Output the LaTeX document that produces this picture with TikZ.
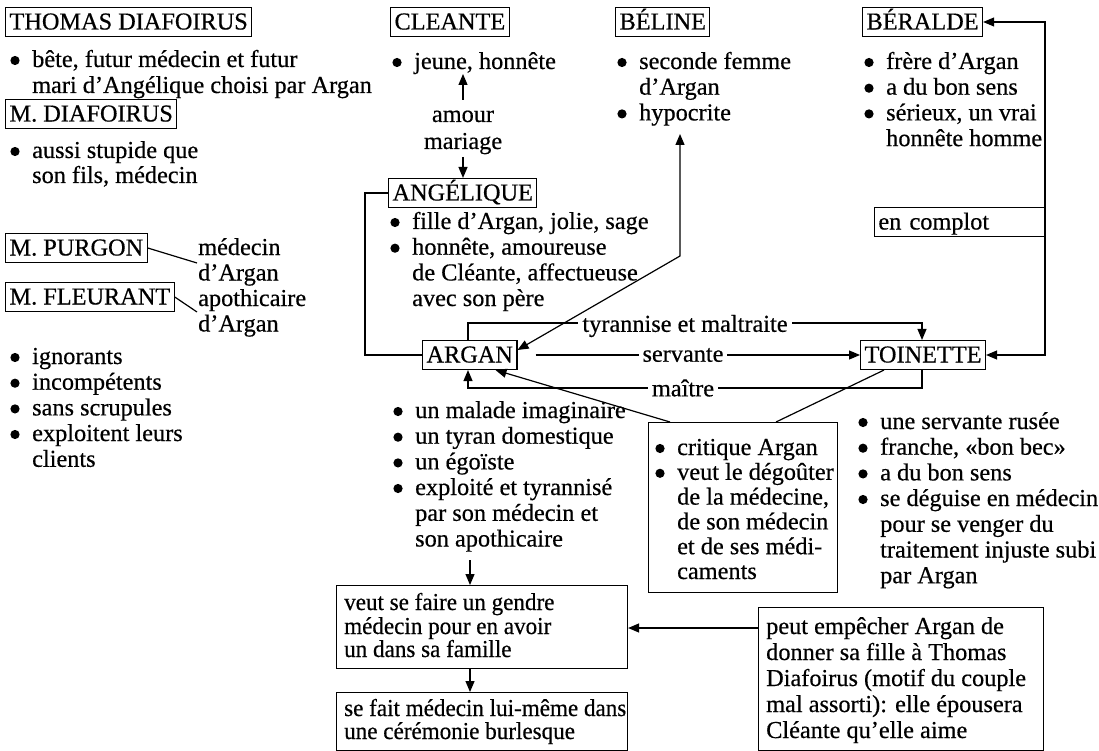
\documentclass[tikz,border=0pt]{standalone}
\usepackage{fontspec}
\setmainfont{Liberation Serif}[FakeBold=0.5]
\newfontfamily\condfont{Liberation Serif}[FakeStretch=0.95,FakeBold=0.5]
\usetikzlibrary{arrows.meta,calc}
% bullet line: name, x of bullet, baseline y, text
\newcommand\Bu[4]{\fill (#2+5,#3-6.5) circle (4.6pt); \node[txt] (#1) at (#2+22,#3) {#4};}
% plain line: name, x, baseline y, text
\newcommand\Tx[4]{\node[txt] (#1) at (#2,#3) {#4};}
\begin{document}
\begin{tikzpicture}[x=1pt,y=-1pt, font=\fontsize{24.3pt}{25.7pt}\selectfont,
 txt/.style={anchor=base west, inner sep=0pt},
 namebox/.style={draw, line width=1.1pt, inner xsep=4pt, inner ysep=0pt, text height=22pt, text depth=7pt, anchor=west},
 frame/.style={draw, line width=1.1pt, anchor=north west, inner sep=0pt},
 lab/.style={fill=white, inner xsep=4pt, inner ysep=1pt},
 ln/.style={line width=1.2pt},
 tri/.style={ln, -{Triangle[length=11pt,width=9pt]}},
 tritri/.style={ln, {Triangle[length=11pt,width=9pt]}-{Triangle[length=11pt,width=9pt]}}]
\path[use as bounding box, fill=white] (0,0) rectangle (1099,751);
% ---------------- left column
\node[namebox] (thomas) at (5,22) {THOMAS DIAFOIRUS};
\Bu{tb1}{10}{67}{bête, futur médecin et futur}
\Tx{tb2}{32}{93}{mari d’Angélique choisi par Argan}
\node[namebox] (mdia) at (5,114) {M. DIAFOIRUS};
\Bu{md1}{10}{158}{aussi stupide que}
\Tx{md2}{32}{183}{son fils, médecin}
\node[namebox] (purgon) at (5,248) {M. PURGON};
\node[namebox] (fleurant) at (5,297) {M. FLEURANT};
\Tx{pf1}{198}{255}{médecin}
\Tx{pf2}{198}{280.5}{d’Argan}
\Tx{pf3}{198}{306}{apothicaire}
\Tx{pf4}{198}{331.5}{d’Argan}
\coordinate (pgE) at (197,263);
\coordinate (flE) at (197,312);
\draw[ln] (purgon.east) -- (pgE);
\draw[ln] (fleurant.east) -- (flE);
\Bu{mm1}{10}{364}{ignorants}
\Bu{mm2}{10}{389.7}{incompétents}
\Bu{mm3}{10}{415.4}{sans scrupules}
\Bu{mm4}{10}{441}{exploitent leurs}
\Tx{mm5}{32}{466.8}{clients}
% ---------------- centre
\node[namebox] (cleante) at (390,22) {CLEANTE};
\Bu{cl1}{392}{69}{jeune, honnête}
\node[anchor=base, inner sep=0pt] (amour) at (463,122) {amour};
\node[anchor=base, inner sep=0pt] (mariage) at (463,149) {mariage};
\coordinate (cu1) at (463,100);
\coordinate (cu2) at (463,74);
\draw[tri] (cu1) -- (cu2);
\node[namebox] (ang) at (388,193) {ANGÉLIQUE};
\coordinate (cd1) at (463,157);
\draw[tri] (cd1) -- (cd1 |- ang.north);
\Bu{an1}{390}{229}{fille d’Argan, jolie, sage}
\Bu{an2}{390}{254.7}{honnête, amoureuse}
\Tx{an3}{412}{280.4}{de Cléante, affectueuse}
\Tx{an4}{412}{306}{avec son père}
\node[namebox] (argan) at (422,355) {ARGAN};
\Bu{ar1}{393}{418}{un malade imaginaire}
\Bu{ar2}{393}{443.7}{un tyran domestique}
\Bu{ar3}{393}{469.4}{un égoïste}
\Bu{ar4}{393}{495}{exploité et tyrannisé}
\Tx{ar5}{415}{520.8}{par son médecin et}
\Tx{ar6}{415}{546.5}{son apothicaire}
% ---------------- bottom left boxes
\node[frame, minimum width=291pt, minimum height=83pt] (b1) at (336,585) {};
\begin{scope}[font=\condfont\fontsize{24.3pt}{23.5pt}\selectfont]
\Tx{b1a}{344}{610}{veut se faire un gendre}
\Tx{b1b}{344}{634}{médecin pour en avoir}
\Tx{b1c}{344}{657}{un dans sa famille}
\end{scope}
\coordinate (ad1) at (470,560);
\draw[tri] (ad1) -- (ad1 |- b1.north);
\node[frame, minimum width=291pt, minimum height=58pt] (b2) at (336,692) {};
\begin{scope}[font=\condfont\fontsize{24.3pt}{23.5pt}\selectfont]
\Tx{b2a}{344}{716}{se fait médecin lui-même dans}
\Tx{b2b}{344}{739}{une cérémonie burlesque}
\end{scope}
\draw[tri] (ad1 |- b1.south) -- (ad1 |- b2.north);
% ---------------- Béline
\node[namebox] (beline) at (615,22) {BÉLINE};
\Bu{be1}{617}{69}{seconde femme}
\Tx{be2}{639}{94.7}{d’Argan}
\Bu{be3}{617}{120.4}{hypocrite}
% ---------------- Béralde
\node[namebox] (beralde) at (862,22) {BÉRALDE};
\Bu{br1}{864}{69}{frère d’Argan}
\Bu{br2}{864}{94.7}{a du bon sens}
\Bu{br3}{864}{120.4}{sérieux, un vrai}
\Tx{br4}{886}{146.1}{honnête homme}
% ---------------- Toinette
\node[namebox] (toi) at (860,355) {TOINETTE};
\Bu{to1}{858}{429}{une servante rusée}
\Bu{to2}{858}{454.7}{franche, «bon bec»}
\Bu{to3}{858}{480.4}{a du bon sens}
\Bu{to4}{858}{506}{se déguise en médecin}
\Tx{to5}{880}{531.8}{pour se venger du}
\Tx{to6}{880}{557.5}{traitement injuste subi}
\Tx{to7}{880}{583.2}{par Argan}
% ---------------- critique box
\node[frame, minimum width=189pt, minimum height=170pt] (crit) at (648,422) {};
\Bu{cr1t}{655}{455}{critique Argan}
\Bu{cr2t}{655}{479.8}{veut le dégoûter}
\Tx{cr3t}{677}{504.6}{de la médecine,}
\Tx{cr4t}{677}{529.4}{de son médecin}
\Tx{cr5t}{677}{554.2}{et de ses médi-}
\Tx{cr6t}{677}{579}{caments}
% ---------------- right bottom box
\node[frame, minimum width=285pt, minimum height=143pt] (rb) at (758,607) {};
\Tx{rb1}{766}{634}{peut empêcher Argan de}
\Tx{rb2}{766}{660}{donner sa fille à Thomas}
\Tx{rb3}{766}{686}{Diafoirus (motif du couple}
\Tx{rb4}{766}{712}{mal assorti): elle épousera}
\Tx{rb5}{766}{738}{Cléante qu’elle aime}
\coordinate (ra) at ($(rb.north west)+(0,21)$);
\draw[tri] (ra) -- (ra -| b1.east);
% ---------------- connectors
\coordinate (rl1) at (1045,22);
\coordinate (rl2) at (1045,355);
\draw[tritri] (beralde.east) -- (rl1) -- (rl2) -- (toi.east);
\node[draw, line width=1.1pt, fill=white, anchor=east, text width=162pt, align=left, inner xsep=4pt, inner ysep=0pt, text height=22pt, text depth=7pt] (complot) at (1045,222) {en complot};
\coordinate (sv0) at ($(argan.east)+(18,0)$);
\draw[tri] (sv0) -- (toi.west);
\node[lab] (servante) at (683,355) {servante};
\coordinate (ty1) at (468,323);
\coordinate (ty2) at (922,323);
\draw[tri] (ty1 |- argan.north) -- (ty1) -- (ty2) -- (ty2 |- toi.north);
\node[lab] (tyr) at (685,326) {tyrannise et maltraite};
\coordinate (ma1) at (922,388);
\coordinate (ma2) at (468,388);
\draw[tri] (ma1 |- toi.south) -- (ma1) -- (ma2) -- (ma2 |- argan.south);
\node[lab] (maitre) at (683,388) {maître};
\coordinate (aa1) at (365,355);
\coordinate (aa2) at (365,193);
\draw[ln] (argan.west) -- (aa1) -- (aa2) -- (ang.west);
\coordinate (crA) at ($(crit.north west)+(22,0)$);
\coordinate (argS) at ($(argan.south east)+(-22,0)$);
\draw[tri] (crA) -- (argS);
\coordinate (toS) at ($(toi.south west)+(24,0)$);
\coordinate (crB) at ($(crit.north west)+(128,0)$);
\draw[ln] (toS) -- (crB);
\coordinate (bel1) at (680,134);
\coordinate (bel2) at (680,256);
\coordinate (argNE) at ($(argan.east)+(0,-5)$);
\draw[tritri] (bel1) -- (bel2) -- (argNE);
\end{tikzpicture}
\end{document}
